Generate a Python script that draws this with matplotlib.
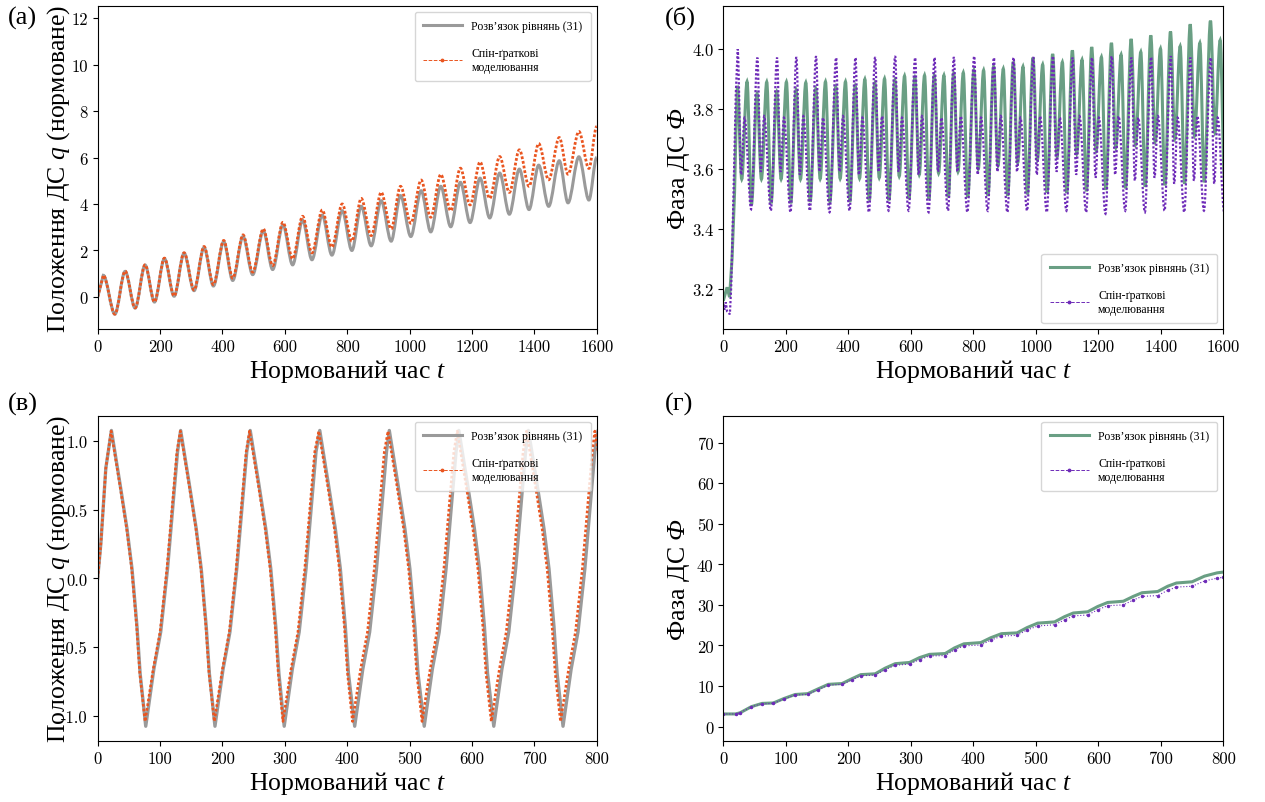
import matplotlib
matplotlib.use('Agg')
import matplotlib.pyplot as plt
from matplotlib.lines import Line2D
from matplotlib.patches import PathPatch
from matplotlib.path import Path
from matplotlib.ticker import FuncFormatter, MultipleLocator
import numpy as np

plt.rcParams['font.family'] = ['Liberation Serif', 'DejaVu Serif']
plt.rcParams['mathtext.fontset'] = 'custom'
plt.rcParams['mathtext.rm'] = 'Liberation Serif'
plt.rcParams['mathtext.it'] = 'Liberation Serif:italic'
plt.rcParams['axes.unicode_minus'] = False

GRAY = '#9a9a9a'
ORANGE = '#ea5520'
GREEN = '#6a9f84'
PURPLE = '#6e2bb8'

LBL_ODE = 'Розв’язок рівнянь (31)'
LBL_SIM = 'Спін-ґраткові\nмоделювання'

# ---------- (а) position q(t), long run ----------
a_peak_t = [18, 88, 152, 214, 277, 341, 404, 466, 531, 594, 657, 720, 784,
            845, 909, 971, 1037, 1100, 1163, 1226, 1289, 1352, 1414, 1480, 1543]
a_sim_peak = [0.93, 1.11, 1.38, 1.67, 1.90, 2.17, 2.43, 2.67, 2.93, 3.21, 3.47, 3.74, 4.00,
              4.24, 4.50, 4.76, 5.03, 5.27, 5.54, 5.81, 6.04, 6.33, 6.60, 6.86, 7.12]
a_ode_peak = [0.93, 1.10, 1.37, 1.65, 1.88, 2.13, 2.38, 2.60, 2.85, 3.10, 3.30, 3.52, 3.71,
              3.90, 4.14, 4.36, 4.57, 4.76, 4.93, 5.11, 5.33, 5.50, 5.67, 5.86, 6.03]
a_trough_t = [55, 120, 182, 245, 309, 371, 433, 497, 561, 625, 687, 751, 815,
              877, 941, 1004, 1068, 1132, 1194, 1257, 1320, 1383, 1446, 1508, 1575]
a_sim_trough = [-0.74, -0.47, -0.21, 0.04, 0.30, 0.53, 0.81, 1.07, 1.35, 1.64, 1.90, 2.14, 2.40,
                2.64, 2.93, 3.17, 3.43, 3.71, 3.96, 4.24, 4.50, 4.76, 5.04, 5.28, 5.53]
a_ode_trough = [-0.74, -0.48, -0.22, 0.03, 0.27, 0.47, 0.71, 0.96, 1.18, 1.38, 1.60, 1.80, 2.00,
                2.20, 2.40, 2.60, 2.80, 3.02, 3.20, 3.40, 3.56, 3.76, 3.90, 4.05, 4.17]
a_start_t = [0]
a_end_t = [1600]
a_sim_ends = [0.0, 7.33]
a_ode_ends = [0.0, 6.0]

# ---------- (б) phase, long run ----------
b_cycle_t = [46, 109, 172, 234, 297, 361, 423, 486, 550, 614, 676, 738, 803,
             866, 929, 992, 1055, 1118, 1180, 1243, 1306, 1369, 1432, 1495, 1560]
# lag of each extremum inside a cycle
b_sim_lag = [0, 11, 22, 43]
b_ode_lag = [-1, 13, 30, 44]
b_sim_hi = [3.998, 3.97, 3.97, 3.972, 3.975, 3.97, 3.97, 3.972, 3.975, 3.97, 3.97, 3.972, 3.975,
            3.97, 3.97, 3.972, 3.975, 3.97, 3.97, 3.975, 3.97, 3.972, 3.975, 3.97, 3.97]
b_sim_lo1 = [3.58, 3.59, 3.59, 3.58, 3.59, 3.59, 3.58, 3.59, 3.59, 3.58, 3.59, 3.59, 3.58,
             3.59, 3.59, 3.58, 3.59, 3.58, 3.57, 3.58, 3.56, 3.57, 3.55, 3.56, 3.55]
b_sim_mid = [3.77, 3.775, 3.77, 3.775, 3.77, 3.775, 3.77, 3.775, 3.77, 3.775, 3.77, 3.775, 3.77,
             3.775, 3.77, 3.775, 3.77, 3.775, 3.77, 3.775, 3.77, 3.775, 3.77, 3.775, 3.77]
b_sim_lo2 = [3.465, 3.46, 3.455, 3.46, 3.455, 3.46, 3.455, 3.46, 3.46, 3.455, 3.46, 3.455, 3.46,
             3.455, 3.46, 3.455, 3.46, 3.455, 3.45, 3.46, 3.455, 3.46, 3.455, 3.46, 3.455]
b_ode_B = [3.876, 3.85, 3.856, 3.862, 3.866, 3.872, 3.875, 3.885, 3.895, 3.903, 3.91, 3.917, 3.928,
           3.94, 3.956, 3.97, 3.982, 3.994, 4.005, 4.019, 4.032, 4.044, 4.057, 4.081, 4.093]
b_ode_lo1 = [3.565, 3.565, 3.565, 3.565, 3.566, 3.567, 3.568, 3.57, 3.575, 3.58, 3.585, 3.59, 3.60,
             3.61, 3.62, 3.63, 3.64, 3.65, 3.66, 3.67, 3.68, 3.69, 3.70, 3.71, 3.72]
b_ode_A = [3.89, 3.889, 3.889, 3.887, 3.89, 3.89, 3.898, 3.90, 3.909, 3.911, 3.911, 3.92, 3.928,
           3.933, 3.94, 3.947, 3.955, 3.963, 3.972, 3.98, 3.989, 4.00, 4.008, 4.019, 4.028]
b_ode_lo2 = [3.48, 3.485, 3.485, 3.49, 3.49, 3.49, 3.495, 3.495, 3.50, 3.50, 3.505, 3.505, 3.51,
             3.51, 3.515, 3.52, 3.52, 3.525, 3.53, 3.535, 3.54, 3.545, 3.55, 3.555, 3.56]
b_sim_start_t = [0, 4, 8, 12, 17, 21, 25, 30, 35, 40]
b_sim_start = [3.15, 3.13, 3.155, 3.125, 3.12, 3.115, 3.20, 3.40, 3.62, 3.85]
b_ode_start_t = [0, 12, 20, 28, 36, 41]
b_ode_start = [3.16, 3.205, 3.172, 3.30, 3.52, 3.75]

# ---------- (в) position q(t), short run ----------
c_ode_peak_t = [22, 133, 244.5, 356, 467.5, 579, 690.5, 802]
c_ode_trough_t = [77, 188, 299, 412, 523.5, 635, 746]
c_sim_peak_t = [21.5, 132.5, 243.5, 354.5, 465.5, 576.5, 687.5, 797]
c_sim_trough_t = [76, 187, 297, 408.5, 520, 631, 742]
c_ode_amp = [1.075, -1.075]
c_sim_amp = [1.07, -1.04]
# shape of one swing
c_fall_dt = [14, 25, 33, 41, 46]
c_fall_q = [0.68, 0.36, 0.07, -0.35, -0.69]
c_rise_dt = [13, 24, 35, 44, 51]
c_rise_q = [-0.66, -0.39, 0.07, 0.55, 0.92]
c_start_t = [0, 5, 13]
c_start_q = [0.0, 0.25, 0.80]

# ---------- (г) phase, short run ----------
d_t = [0, 20, 27, 45, 62, 80, 97, 115, 135, 152, 168, 190, 206, 220, 243, 259, 275, 298,
       314, 330, 355, 370, 385, 412, 428, 445, 470, 486, 503, 530, 546, 560, 583, 599,
       615, 640, 656, 670, 695, 711, 725, 750, 770, 790, 800]
d_ode = [3.1, 3.1, 3.4, 4.9, 5.7, 5.8, 6.9, 7.9, 8.1, 9.3, 10.4, 10.6, 11.8, 12.8, 13.0,
         14.4, 15.5, 15.8, 17.0, 17.8, 18.0, 19.4, 20.4, 20.7, 21.9, 22.9, 23.1, 24.4, 25.5,
         25.8, 27.1, 28.0, 28.3, 29.6, 30.6, 30.9, 32.1, 33.0, 33.3, 34.6, 35.4, 35.7, 37.1,
         37.9, 38.1]
d_sim = [3.1, 3.1, 3.4, 4.9, 5.6, 5.7, 6.8, 7.8, 7.9, 9.1, 10.2, 10.4, 11.5, 12.5, 12.7,
         14.0, 15.1, 15.4, 16.5, 17.4, 17.5, 18.9, 19.9, 20.1, 21.3, 22.3, 22.5, 23.8, 24.8,
         25.1, 26.3, 27.3, 27.5, 28.8, 29.8, 30.0, 31.2, 32.1, 32.3, 33.6, 34.4, 34.6, 35.9,
         36.6, 36.8]


def sort_pts(t, v):
    t = np.asarray(t, float)
    v = np.asarray(v, float)
    o = np.argsort(t, kind='stable')
    return t[o], v[o]


def cycles(cyc_t, lags, levels):
    t, v = [], []
    for lag, lev in zip(lags, levels):
        t += [c + lag for c in cyc_t]
        v += list(lev)
    return sort_pts(t, v)


def swings(start_t, start_q, peaks, troughs, amp):
    t = list(start_t)
    q = list(start_q)
    for p in peaks:
        t += [p] + [p + d for d in c_fall_dt]
        q += [amp[0]] + c_fall_q
    for tr in troughs:
        t += [tr] + [tr + d for d in c_rise_dt]
        q += [amp[1]] + c_rise_q
    return sort_pts(t, q)


def extrema_curve(ax, lead_t, lead_v, ext_t, ext_v, **kw):
    # straight lead-in, then extremum to extremum with flat tangents at each turn
    verts = [(lead_t[0], lead_v[0])]
    codes = [Path.MOVETO]
    for x, y in zip(lead_t[1:], lead_v[1:]):
        verts.append((x, y))
        codes.append(Path.LINETO)
    verts.append((ext_t[0], ext_v[0]))
    codes.append(Path.LINETO)
    for i in range(1, len(ext_t)):
        x0, y0, x1, y1 = ext_t[i - 1], ext_v[i - 1], ext_t[i], ext_v[i]
        dx = (x1 - x0) / 3
        verts += [(x0 + dx, y0), (x1 - dx, y1), (x1, y1)]
        codes += [Path.CURVE4] * 3
    ax.add_patch(PathPatch(Path(verts, codes), fill=False, **kw))


def fmt(decimals):
    return FuncFormatter(lambda v, p: '%.*f' % (decimals, v))


def style_axes(ax, ylabel, xmax, xstep):
    ax.set_xlim(0, xmax)
    ax.xaxis.set_major_locator(MultipleLocator(xstep))
    ax.xaxis.set_major_formatter(fmt(0))
    ax.tick_params(labelsize=12, labelfontfamily='cmr10')
    ax.set_xlabel('Нормований час $t$', fontsize=18.5, labelpad=2)
    ax.set_ylabel(ylabel, fontsize=18.5)


def legend(ax, c_ode, c_sim, loc):
    h = [Line2D([], [], color=c_ode, lw=2.2),
         Line2D([], [], color=c_sim, lw=0.7, ls='--', marker='.', ms=3.5)]
    ax.legend(h, [LBL_ODE, LBL_SIM], loc=loc, fontsize=8.5, handlelength=3.3,
              labelspacing=1.25, borderpad=0.7)


fig = plt.figure(figsize=(12.65, 8.03), dpi=100)
W, H = 1265, 803


def add_ax(l, t, r, b):
    return fig.add_axes([l / W, 1 - b / H, (r - l) / W, (b - t) / H])


ax_a = add_ax(97.7, 7, 596.7, 330)
ax_b = add_ax(723.3, 7, 1223.3, 330)
ax_c = add_ax(97.7, 417, 596.7, 741.7)
ax_d = add_ax(723.3, 417, 1223.3, 741.7)

q_label = 'Положення ДС $q$ (нормоване)'
phi_label = 'Фаза ДС $\\mathit{Ф}$'

# (а)
et, ev = sort_pts(a_peak_t + a_trough_t + a_end_t,
                  a_ode_peak + a_ode_trough + a_ode_ends[1:])
extrema_curve(ax_a, a_start_t, a_ode_ends[:1], et, ev, color=GRAY, lw=2.2)
et, ev = sort_pts(a_peak_t + a_trough_t + a_end_t,
                  a_sim_peak + a_sim_trough + a_sim_ends[1:])
extrema_curve(ax_a, a_start_t, a_sim_ends[:1], et, ev, color=ORANGE, lw=2.0,
              ls=(0, (1.0, 0.7)))
ax_a.set_ylim(-1.38, 12.52)
ax_a.yaxis.set_major_locator(MultipleLocator(2))
ax_a.yaxis.set_major_formatter(fmt(0))
style_axes(ax_a, q_label, 1600, 200)
legend(ax_a, GRAY, ORANGE, 'upper right')

# (б)
et, ev = cycles(b_cycle_t, b_ode_lag, [b_ode_B, b_ode_lo1, b_ode_A, b_ode_lo2])
extrema_curve(ax_b, b_ode_start_t, b_ode_start, et, ev, color=GREEN, lw=2.2)
et, ev = cycles(b_cycle_t, b_sim_lag, [b_sim_hi, b_sim_lo1, b_sim_mid, b_sim_lo2])
extrema_curve(ax_b, b_sim_start_t, b_sim_start, et, ev, color=PURPLE, lw=1.6,
              ls=(0, (1.0, 0.9)))
ax_b.set_ylim(3.066, 4.142)
ax_b.yaxis.set_major_locator(MultipleLocator(0.2))
ax_b.yaxis.set_major_formatter(fmt(1))
style_axes(ax_b, phi_label, 1600, 200)
legend(ax_b, GREEN, PURPLE, 'lower right')

# (в)
t, v = swings(c_start_t, c_start_q, c_ode_peak_t, c_ode_trough_t, c_ode_amp)
ax_c.plot(t, v, color=GRAY, lw=2.4, solid_joinstyle='round')
t, v = swings(c_start_t, c_start_q, c_sim_peak_t, c_sim_trough_t, c_sim_amp)
ax_c.plot(t, v, color=ORANGE, lw=1.9, ls=(0, (1.0, 0.8)))
ax_c.set_ylim(-1.18, 1.18)
ax_c.yaxis.set_major_locator(MultipleLocator(0.5))
ax_c.yaxis.set_major_formatter(fmt(1))
style_axes(ax_c, q_label, 800, 100)
legend(ax_c, GRAY, ORANGE, 'upper right')

# (г)
ax_d.plot(d_t, d_ode, color=GREEN, lw=2.2)
ax_d.plot(d_t, d_sim, color=PURPLE, lw=0.8, ls=':', marker='.', ms=3)
ax_d.set_ylim(-3.5, 76.6)
ax_d.yaxis.set_major_locator(MultipleLocator(10))
ax_d.yaxis.set_major_formatter(fmt(0))
style_axes(ax_d, phi_label, 800, 100)
legend(ax_d, GREEN, PURPLE, 'upper right')

for ax in (ax_a, ax_c):
    ax.yaxis.set_label_coords(-0.052, 0.5)
for ax in (ax_b, ax_d):
    ax.yaxis.set_label_coords(-0.062, 0.5)

fig.text(8 / W, 1 - 18 / H, '(а)', fontsize=19, va='center')
fig.text(665 / W, 1 - 18 / H, '(б)', fontsize=19, va='center')
fig.text(8 / W, 1 - 404 / H, '(в)', fontsize=19, va='center')
fig.text(665 / W, 1 - 404 / H, '(г)', fontsize=19, va='center')

fig.savefig('out.png', dpi=100)
